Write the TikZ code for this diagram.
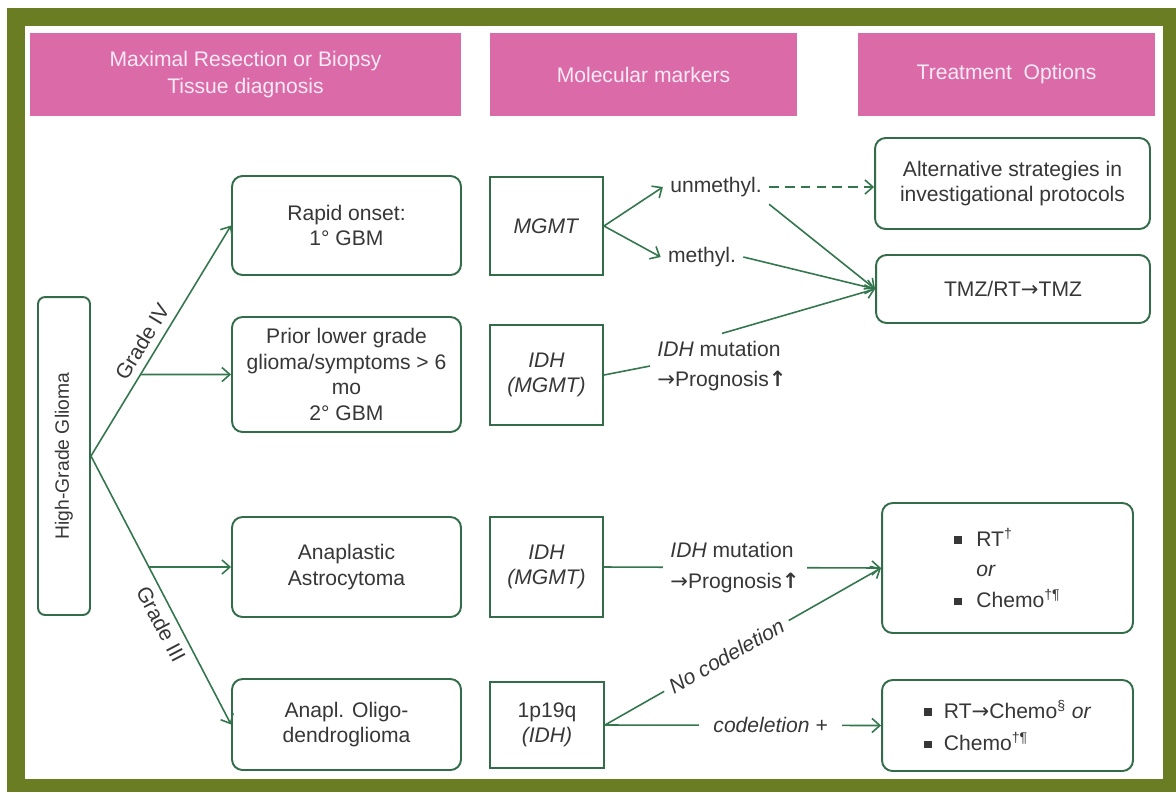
\documentclass[tikz,border=0pt]{standalone}
\usepackage{fontspec}
\setmainfont{Liberation Sans}
\newfontfamily\arrowfont{DejaVu Sans}
\usepackage{graphicx}
\usepackage{tikz}
\usetikzlibrary{arrows.meta, positioning, calc}

\newcommand{\sqbul}{\rule[1.2pt]{4.5pt}{4.5pt}}
\newcommand{\upbold}{{\arrowfont\bfseries ↑}}
\newcommand{\rarr}{{\arrowfont →}}

\tikzset{
  header/.style={fill=headpink, text=headtext, minimum height=1.66cm, align=center,
    font=\fontsize{12}{15}\selectfont},
  entity/.style={draw=boxgreen, line width=1.1pt, rounded corners=6pt, fill=white,
    align=center, text=textgray, font=\fontsize{12}{14.5}\selectfont},
  marker/.style={draw=boxgreen, line width=1.1pt, fill=white, align=center,
    text=textgray, font=\fontsize{12}{14.5}\selectfont},
  tag/.style={text=textgray, inner sep=4pt, align=left, font=\fontsize{12}{17.5}\selectfont},
  link/.style={draw=linegreen, line width=0.9pt, -{Straight Barb[length=4.5pt,width=8pt]}},
}

\begin{document}
\begin{tikzpicture}[x=0.02cm, y=-0.02cm]
% Define colors
\definecolor{framegreen}{RGB}{107,125,35}
\definecolor{headpink}{RGB}{219,106,168}
\definecolor{headtext}{RGB}{252,234,244}
\definecolor{boxgreen}{RGB}{50,108,72}
\definecolor{linegreen}{RGB}{52,118,78}
\definecolor{textgray}{RGB}{55,55,55}

% Frame
\useasboundingbox (0,0) rectangle (1176,792);
\fill[framegreen] (7,8) rectangle (1176,792);
\fill[white] (25,26) rectangle (1163,779);

% Column headers
\node[header, minimum width=8.62cm] (hdiag) at (245.5,74.5) {Maximal Resection or Biopsy\\Tissue diagnosis};
\node[header, minimum width=6.14cm] (hmark) at (643.5,74.5) {Molecular markers};
\node[header, minimum width=5.94cm] (htreat) at (1006.5,74.5) {Treatment\ \ Options};

% Diagnosis
\node[entity, rounded corners=4pt, minimum width=1.04cm, minimum height=6.36cm,
  font=\fontsize{11}{13}\selectfont] (hgg) at (64,456) {\rotatebox{90}{High-Grade Glioma}};
\node[entity, minimum width=4.58cm, minimum height=1.98cm] (rapid) at (346.5,225.5) {Rapid onset:\\1° GBM};
\node[entity, minimum width=4.58cm, minimum height=2.3cm] (prior) at (346.5,374.5) {Prior lower grade\\glioma/symptoms > 6\\mo\\2° GBM};
\node[entity, minimum width=4.58cm, minimum height=2cm] (astro) at (346.5,567) {Anaplastic\\Astrocytoma};
\node[entity, minimum width=4.58cm, minimum height=1.82cm] (oligo) at (346.5,724.5) {Anapl. Oligo-\\dendroglioma};

% Molecular markers
\node[marker, minimum width=2.26cm, minimum height=1.96cm] (mgmt) at (546.5,226) {\textit{MGMT}};
\node[marker, minimum width=2.26cm, minimum height=2cm] (idhA) at (546.5,375) {\textit{IDH}\\\textit{(MGMT)}};
\node[marker, minimum width=2.26cm, minimum height=2cm] (idhB) at (546.5,567) {\textit{IDH}\\\textit{(MGMT)}};
\node[marker, minimum width=2.28cm, minimum height=1.72cm] (codel) at (547,725) {1p19q\\\textit{(IDH)}};

% Treatment options
\node[entity, minimum width=5.5cm, minimum height=1.82cm] (alt) at (1012.5,183.5) {Alternative strategies in\\investigational protocols};
\node[entity, minimum width=5.48cm, minimum height=1.36cm] (tmz) at (1013,289) {TMZ/RT\rarr TMZ};
\node[entity, minimum width=5.02cm, minimum height=2.6cm, align=left,
  font=\fontsize{12}{17.5}\selectfont] (rtchemo) at (1007.5,568)
  {\sqbul\hspace{8pt}RT\textsuperscript{†}\\\hphantom{\sqbul\hspace{8pt}}\textit{or}\\\sqbul\hspace{8pt}Chemo\textsuperscript{†¶}};
\node[entity, minimum width=5.02cm, minimum height=1.82cm, align=left,
  font=\fontsize{12}{18.5}\selectfont] (rtseq) at (1007.5,725.5)
  {\sqbul\hspace{7pt}RT\rarr Chemo\textsuperscript{§} \textit{or}\\\sqbul\hspace{7pt}Chemo\textsuperscript{†¶}};

% Marker results
\node[tag] (unmeth) at (716,187) {unmethyl.};
\node[tag] (meth) at (702,257) {methyl.};
\node[tag] (mutA) at (722,366) {\textit{IDH} mutation\\\rarr Prognosis\upbold};

% Grades
\coordinate (split) at (hgg.east);
\coordinate (rw) at (rapid.west);
\coordinate (ow) at (oligo.west);
\coordinate (pw) at (prior.west);
\coordinate (aw) at (astro.west);
\coordinate (pl) at (prior.west -| hgg.east);
\coordinate (al) at (astro.west -| hgg.east);
\coordinate (gIV) at (intersection of split--rw and pw--pl);
\coordinate (gIII) at (intersection of split--ow and aw--al);

\draw[link] (split) -- node[tag, sloped, above, pos=0.46] (gradeIV) {Grade IV} (rapid.west);
\draw[link] (split) -- node[tag, sloped, below, pos=0.6] (gradeIII) {Grade III} (oligo.west);
\draw[link] (gIV) -- (prior.west);
\draw[link] (gIII) -- (astro.west);

% MGMT and IDH (grade IV)
\draw[link] (mgmt.east) -- (unmeth.west);
\draw[link] (mgmt.east) -- (meth.west);
\draw[link, dash pattern=on 5.5pt off 3.5pt] (unmeth.east) -- (unmeth.east -| alt.west);
\draw[link] (unmeth.south east) -- (tmz.west);
\draw[link] (meth.east) -- (tmz.west);
\draw[link] (mutA.north) -- (tmz.west);
\draw[link, -] (idhA.east) -- (mutA.west);

% Grade III
\draw[link] (idhB.east) -- node[tag, fill=white, pos=0.473] (mutB) {\textit{IDH} mutation\\\rarr Prognosis\upbold} (rtchemo.west);
\draw[link] (codel.east) -- node[tag, sloped, fill=white, pos=0.44] (nocodel) {\textit{No codeletion}} (rtchemo.west);
\draw[link] (codel.east) -- node[tag, fill=white, inner xsep=8pt, pos=0.6] (yescodel) {\textit{codeletion +}} (rtseq.west);
\end{tikzpicture}
\end{document}
